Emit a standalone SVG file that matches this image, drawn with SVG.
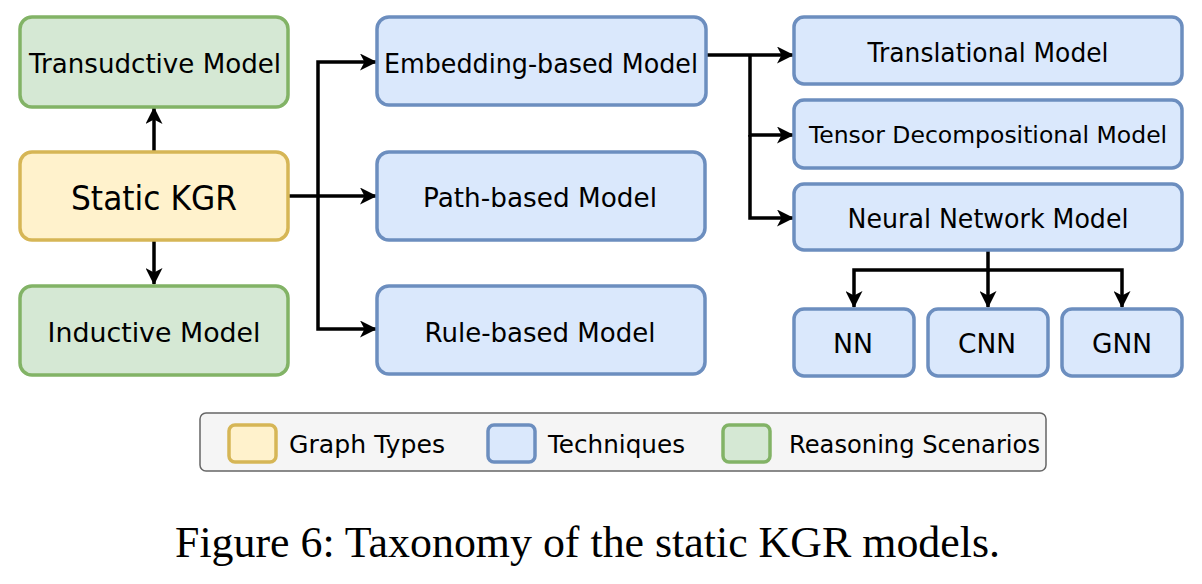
<svg xmlns="http://www.w3.org/2000/svg" width="1202" height="584" viewBox="0 0 1202 584">
<style>
.g{fill:#d5e8d4;stroke:#82b366;stroke-width:3.5}
.y{fill:#fff2cc;stroke:#d6b656;stroke-width:3.5}
.b{fill:#dae8fc;stroke:#6c8ebf;stroke-width:3.5}
.t{font-family:"DejaVu Sans","Liberation Sans",sans-serif;font-size:27px;fill:#000;text-anchor:middle}
.c{fill:none;stroke:#000;stroke-width:3.5}
.lt{font-family:"DejaVu Sans","Liberation Sans",sans-serif;font-size:25px;fill:#000}
</style>
<defs>
<marker id="a" viewBox="0 0 17 17" refX="16" refY="8.5" markerWidth="17" markerHeight="17" markerUnits="userSpaceOnUse" orient="auto">
<path d="M0,0 L17,8.5 L0,17 L4.5,8.5 Z" fill="#000"/>
</marker>
</defs>
<g id="connectors">
<path class="c" d="M154,152 V108" marker-end="url(#a)"/>
<path class="c" d="M154,240 V284" marker-end="url(#a)"/>
<path class="c" d="M288,196 H376" marker-end="url(#a)"/>
<path class="c" d="M318,196 V62 H376" marker-end="url(#a)"/>
<path class="c" d="M318,196 V329 H376" marker-end="url(#a)"/>
<path class="c" d="M706,55 H793" marker-end="url(#a)"/>
<path class="c" d="M750,55 V135 H793" marker-end="url(#a)"/>
<path class="c" d="M750,135 V218 H793" marker-end="url(#a)"/>
<path class="c" d="M988,250 V270 H854 V307" marker-end="url(#a)"/>
<path class="c" d="M988,270 V307" marker-end="url(#a)"/>
<path class="c" d="M988,270 H1122 V307" marker-end="url(#a)"/>
</g>
<g id="transductive"><rect class="g" x="20" y="17" width="268" height="90" rx="12"/><text class="t" x="155" y="73" textLength="252" lengthAdjust="spacingAndGlyphs">Transudctive Model</text></g>
<g id="static"><rect class="y" x="20" y="152" width="268" height="88" rx="12"/><text class="t" x="154" y="210" style="font-size:33px" textLength="166" lengthAdjust="spacingAndGlyphs">Static KGR</text></g>
<g id="inductive"><rect class="g" x="20" y="286" width="268" height="89" rx="12"/><text class="t" x="154" y="342" textLength="213" lengthAdjust="spacingAndGlyphs">Inductive Model</text></g>
<g id="embedding"><rect class="b" x="377" y="17" width="329" height="88" rx="12"/><text class="t" x="541" y="73" textLength="314" lengthAdjust="spacingAndGlyphs">Embedding-based Model</text></g>
<g id="path"><rect class="b" x="377" y="152" width="328" height="88" rx="12"/><text class="t" x="540" y="207" textLength="234" lengthAdjust="spacingAndGlyphs">Path-based Model</text></g>
<g id="rule"><rect class="b" x="377" y="286" width="328" height="88" rx="12"/><text class="t" x="540" y="342" textLength="231" lengthAdjust="spacingAndGlyphs">Rule-based Model</text></g>
<g id="translational"><rect class="b" x="794" y="17" width="388" height="67" rx="10"/><text class="t" x="988" y="62" textLength="241" lengthAdjust="spacingAndGlyphs">Translational Model</text></g>
<g id="tensor"><rect class="b" x="794" y="100" width="388" height="68" rx="10"/><text class="t" x="988" y="143" style="font-size:23.5px">Tensor Decompositional Model</text></g>
<g id="neural"><rect class="b" x="794" y="184" width="388" height="66" rx="10"/><text class="t" x="988" y="228" textLength="281" lengthAdjust="spacingAndGlyphs">Neural Network Model</text></g>
<g id="nn"><rect class="b" x="794" y="309" width="120" height="67" rx="10"/><text class="t" x="853" y="353" textLength="40" lengthAdjust="spacingAndGlyphs">NN</text></g>
<g id="cnn"><rect class="b" x="928" y="309" width="120" height="67" rx="10"/><text class="t" x="987" y="353" textLength="58" lengthAdjust="spacingAndGlyphs">CNN</text></g>
<g id="gnn"><rect class="b" x="1062" y="309" width="120" height="67" rx="10"/><text class="t" x="1122" y="353" textLength="60" lengthAdjust="spacingAndGlyphs">GNN</text></g>
<g id="legend">
<rect x="200" y="413" width="846" height="58" rx="6" fill="#f5f5f5" stroke="#666666" stroke-width="1.5"/>
<rect class="y" x="229" y="425" width="47" height="37" rx="6"/>
<text class="lt" x="289" y="453" textLength="156" lengthAdjust="spacingAndGlyphs">Graph Types</text>
<rect class="b" x="488" y="425" width="47" height="37" rx="6"/>
<text class="lt" x="548" y="453" textLength="137" lengthAdjust="spacingAndGlyphs">Techniques</text>
<rect class="g" x="723" y="425" width="47" height="37" rx="6"/>
<text class="lt" x="789" y="453" textLength="251" lengthAdjust="spacingAndGlyphs">Reasoning Scenarios</text>
</g>
<text x="175" y="557" font-family="Liberation Serif,serif" font-size="44" fill="#000" textLength="825" lengthAdjust="spacingAndGlyphs">Figure 6: Taxonomy of the static KGR models.</text>
</svg>
